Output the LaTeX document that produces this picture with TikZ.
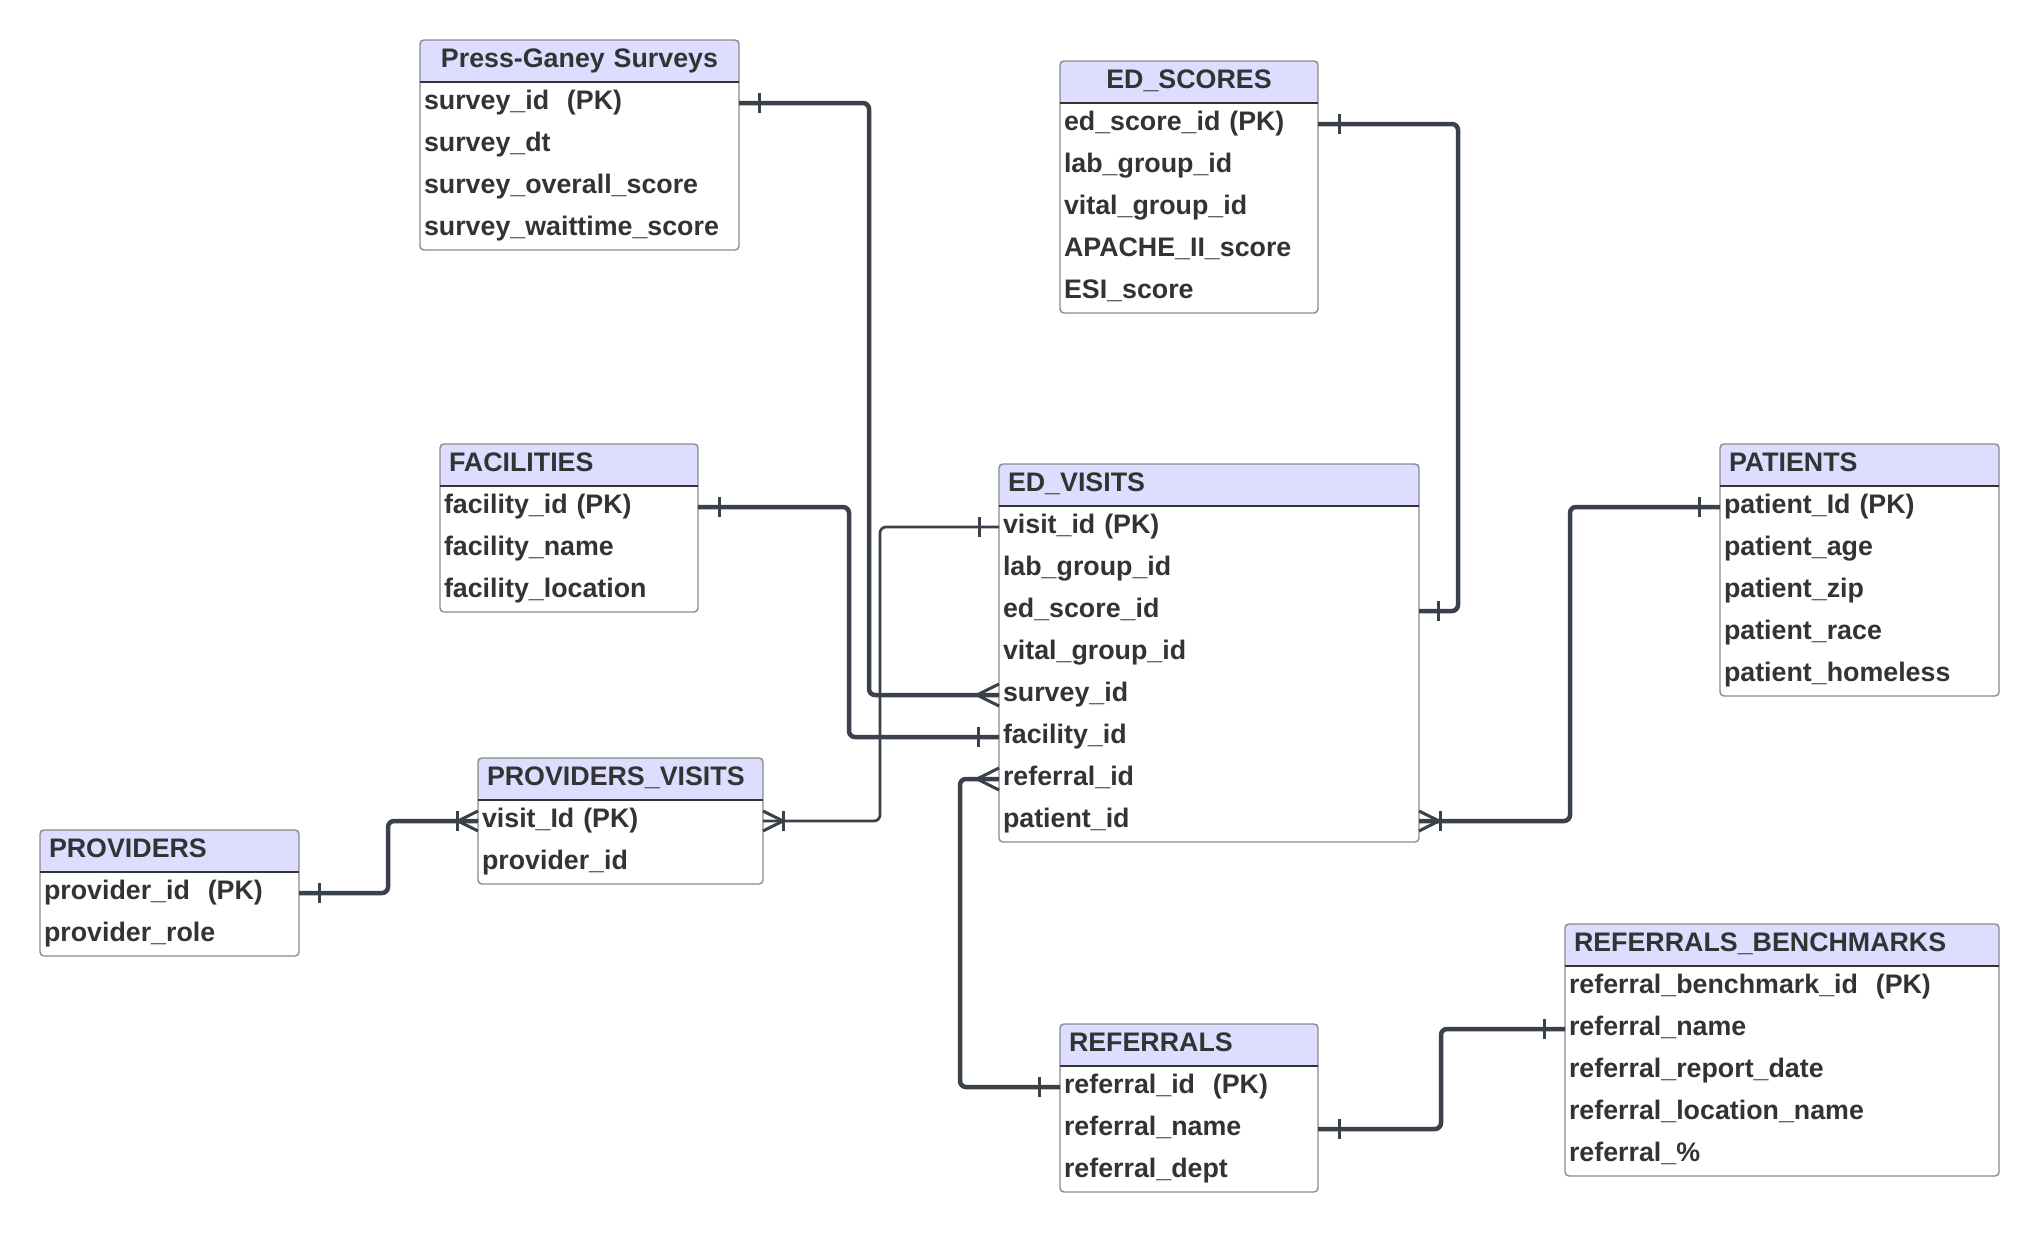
\documentclass[tikz,border=0pt]{standalone}
\usepackage{fontspec}
\setmainfont{Liberation Sans}
\usepackage{tikz}
\usetikzlibrary{positioning}

\definecolor{hdrfill}{HTML}{DDDDFF}
\definecolor{ink}{HTML}{333333}
\definecolor{wire}{HTML}{3A414A}
\definecolor{edge}{HTML}{8A8A8A}

\begin{document}
\begin{tikzpicture}[x=1pt,y=-1pt,
		cell/.style={inner ysep=0pt, outer sep=0pt, minimum height=42pt,
			text height=18pt, text depth=6pt, text=ink, align=left,
			font=\bfseries\fontsize{26.8}{32}\selectfont},
		hdr/.style={cell, anchor=north west, fill=hdrfill, inner xsep=9pt, text width=#1},
		fld/.style={cell, inner xsep=4pt, text width=#1},
		frame/.style={draw=edge, line width=1.4pt, rounded corners=4pt},
		rule/.style={draw=ink, line width=1.8pt},
		link/.style={draw=wire, line width=4.5pt, rounded corners=6pt},
		thinlink/.style={link, line width=2.7pt},
		bar/.style={draw=wire, line width=3pt}]
		\useasboundingbox (0,0) rectangle (2039,1232);

		% tables
		\node[hdr=301pt, align=center] (ps) at (420,40) {Press-Ganey Surveys};
		\node[fld=311pt, below=0pt of ps] (ps1) {survey\_id\ \ (PK)};
		\node[fld=311pt, below=0pt of ps1] (ps2) {survey\_dt};
		\node[fld=311pt, below=0pt of ps2] (ps3) {survey\_overall\_score};
		\node[fld=311pt, below=0pt of ps3] (ps4) {survey\_waittime\_score};
		\draw[frame] (ps.north west) rectangle (ps4.south east);
		\draw[rule] (ps.south west) -- (ps.south east);

		\node[hdr=240pt, align=center] (es) at (1060,61) {ED\_SCORES};
		\node[fld=250pt, below=0pt of es] (es1) {ed\_score\_id (PK)};
		\node[fld=250pt, below=0pt of es1] (es2) {lab\_group\_id};
		\node[fld=250pt, below=0pt of es2] (es3) {vital\_group\_id};
		\node[fld=250pt, below=0pt of es3] (es4) {APACHE\_II\_score};
		\node[fld=250pt, below=0pt of es4] (es5) {ESI\_score};
		\draw[frame] (es.north west) rectangle (es5.south east);
		\draw[rule] (es.south west) -- (es.south east);

		\node[hdr=240pt] (fa) at (440,444) {FACILITIES};
		\node[fld=250pt, below=0pt of fa] (fa1) {facility\_id (PK)};
		\node[fld=250pt, below=0pt of fa1] (fa2) {facility\_name};
		\node[fld=250pt, below=0pt of fa2] (fa3) {facility\_location};
		\draw[frame] (fa.north west) rectangle (fa3.south east);
		\draw[rule] (fa.south west) -- (fa.south east);

		\node[hdr=402pt] (ev) at (999,464) {ED\_VISITS};
		\node[fld=412pt, below=0pt of ev] (ev1) {visit\_id (PK)};
		\node[fld=412pt, below=0pt of ev1] (ev2) {lab\_group\_id};
		\node[fld=412pt, below=0pt of ev2] (ev3) {ed\_score\_id};
		\node[fld=412pt, below=0pt of ev3] (ev4) {vital\_group\_id};
		\node[fld=412pt, below=0pt of ev4] (ev5) {survey\_id};
		\node[fld=412pt, below=0pt of ev5] (ev6) {facility\_id};
		\node[fld=412pt, below=0pt of ev6] (ev7) {referral\_id};
		\node[fld=412pt, below=0pt of ev7] (ev8) {patient\_id};
		\draw[frame] (ev.north west) rectangle (ev8.south east);
		\draw[rule] (ev.south west) -- (ev.south east);

		\node[hdr=261pt] (pa) at (1720,444) {PATIENTS};
		\node[fld=271pt, below=0pt of pa] (pa1) {patient\_Id (PK)};
		\node[fld=271pt, below=0pt of pa1] (pa2) {patient\_age};
		\node[fld=271pt, below=0pt of pa2] (pa3) {patient\_zip};
		\node[fld=271pt, below=0pt of pa3] (pa4) {patient\_race};
		\node[fld=271pt, below=0pt of pa4] (pa5) {patient\_homeless};
		\draw[frame] (pa.north west) rectangle (pa5.south east);
		\draw[rule] (pa.south west) -- (pa.south east);

		\node[hdr=267pt] (pv) at (478,758) {PROVIDERS\_VISITS};
		\node[fld=277pt, below=0pt of pv] (pv1) {visit\_Id (PK)};
		\node[fld=277pt, below=0pt of pv1] (pv2) {provider\_id};
		\draw[frame] (pv.north west) rectangle (pv2.south east);
		\draw[rule] (pv.south west) -- (pv.south east);

		\node[hdr=241pt] (pr) at (40,830) {PROVIDERS};
		\node[fld=251pt, below=0pt of pr] (pr1) {provider\_id\ \ (PK)};
		\node[fld=251pt, below=0pt of pr1] (pr2) {provider\_role};
		\draw[frame] (pr.north west) rectangle (pr2.south east);
		\draw[rule] (pr.south west) -- (pr.south east);

		\node[hdr=240pt] (re) at (1060,1024) {REFERRALS};
		\node[fld=250pt, below=0pt of re] (re1) {referral\_id\ \ (PK)};
		\node[fld=250pt, below=0pt of re1] (re2) {referral\_name};
		\node[fld=250pt, below=0pt of re2] (re3) {referral\_dept};
		\draw[frame] (re.north west) rectangle (re3.south east);
		\draw[rule] (re.south west) -- (re.south east);

		\node[hdr=416pt] (rb) at (1565,924) {REFERRALS\_BENCHMARKS};
		\node[fld=426pt, below=0pt of rb] (rb1) {referral\_benchmark\_id\ \ (PK)};
		\node[fld=426pt, below=0pt of rb1] (rb2) {referral\_name};
		\node[fld=426pt, below=0pt of rb2] (rb3) {referral\_report\_date};
		\node[fld=426pt, below=0pt of rb3] (rb4) {referral\_location\_name};
		\node[fld=426pt, below=0pt of rb4] (rb5) {referral\_\%};
		\draw[frame] (rb.north west) rectangle (rb5.south east);
		\draw[rule] (rb.south west) -- (rb.south east);

		% relations
		\draw[link] (ps1.east) -- ++(130,0) |- (ev5.west);
		\draw[link] (fa1.east) -- ++(151,0) |- (ev6.west);
		\draw[link] (es1.east) -- ++(140,0) |- (ev3.east);
		\draw[link] (pa1.west) -- ++(-150,0) |- (ev8.east);
		\draw[thinlink] (ev1.west) -- ++(-119,0) |- (pv1.east);
		\draw[link] (pr1.east) -- ++(89,0) |- (pv1.west);
		\draw[link] (ev7.west) -- ++(-39,0) |- (re1.west);
		\draw[link] (re2.east) -- ++(123,0) |- (rb2.west);

		% ends: one
		\draw[bar] ([xshift=20pt,yshift=10pt]ps1.east) -- ([xshift=20pt,yshift=-10pt]ps1.east);
		\draw[bar] ([xshift=21pt,yshift=10pt]fa1.east) -- ([xshift=21pt,yshift=-10pt]fa1.east);
		\draw[bar] ([xshift=-21pt,yshift=10pt]ev6.west) -- ([xshift=-21pt,yshift=-10pt]ev6.west);
		\draw[bar] ([xshift=21pt,yshift=10pt]es1.east) -- ([xshift=21pt,yshift=-10pt]es1.east);
		\draw[bar] ([xshift=19pt,yshift=10pt]ev3.east) -- ([xshift=19pt,yshift=-10pt]ev3.east);
		\draw[bar] ([xshift=-21pt,yshift=10pt]pa1.west) -- ([xshift=-21pt,yshift=-10pt]pa1.west);
		\draw[bar] ([xshift=-20pt,yshift=10pt]ev1.west) -- ([xshift=-20pt,yshift=-10pt]ev1.west);
		\draw[bar] ([xshift=20pt,yshift=10pt]pr1.east) -- ([xshift=20pt,yshift=-10pt]pr1.east);
		\draw[bar] ([xshift=-21pt,yshift=10pt]re1.west) -- ([xshift=-21pt,yshift=-10pt]re1.west);
		\draw[bar] ([xshift=21pt,yshift=10pt]re2.east) -- ([xshift=21pt,yshift=-10pt]re2.east);
		\draw[bar] ([xshift=-21pt,yshift=10pt]rb2.west) -- ([xshift=-21pt,yshift=-10pt]rb2.west);

		% ends: many
		\draw[bar] ([yshift=11pt]ev5.west) -- ([xshift=-22pt]ev5.west) -- ([yshift=-11pt]ev5.west);
		\draw[bar] ([yshift=11pt]ev7.west) -- ([xshift=-22pt]ev7.west) -- ([yshift=-11pt]ev7.west);

		% ends: one or many
		\draw[bar] ([yshift=10pt]ev8.east) -- ([xshift=20pt]ev8.east) -- ([yshift=-10pt]ev8.east);
		\draw[bar] ([xshift=21pt,yshift=10pt]ev8.east) -- ([xshift=21pt,yshift=-10pt]ev8.east);
		\draw[bar] ([yshift=10pt]pv1.east) -- ([xshift=20pt]pv1.east) -- ([yshift=-10pt]pv1.east);
		\draw[bar] ([xshift=20pt,yshift=10pt]pv1.east) -- ([xshift=20pt,yshift=-10pt]pv1.east);
		\draw[bar] ([yshift=10pt]pv1.west) -- ([xshift=-20pt]pv1.west) -- ([yshift=-10pt]pv1.west);
		\draw[bar] ([xshift=-21pt,yshift=10pt]pv1.west) -- ([xshift=-21pt,yshift=-10pt]pv1.west);
	\end{tikzpicture}
\end{document}
